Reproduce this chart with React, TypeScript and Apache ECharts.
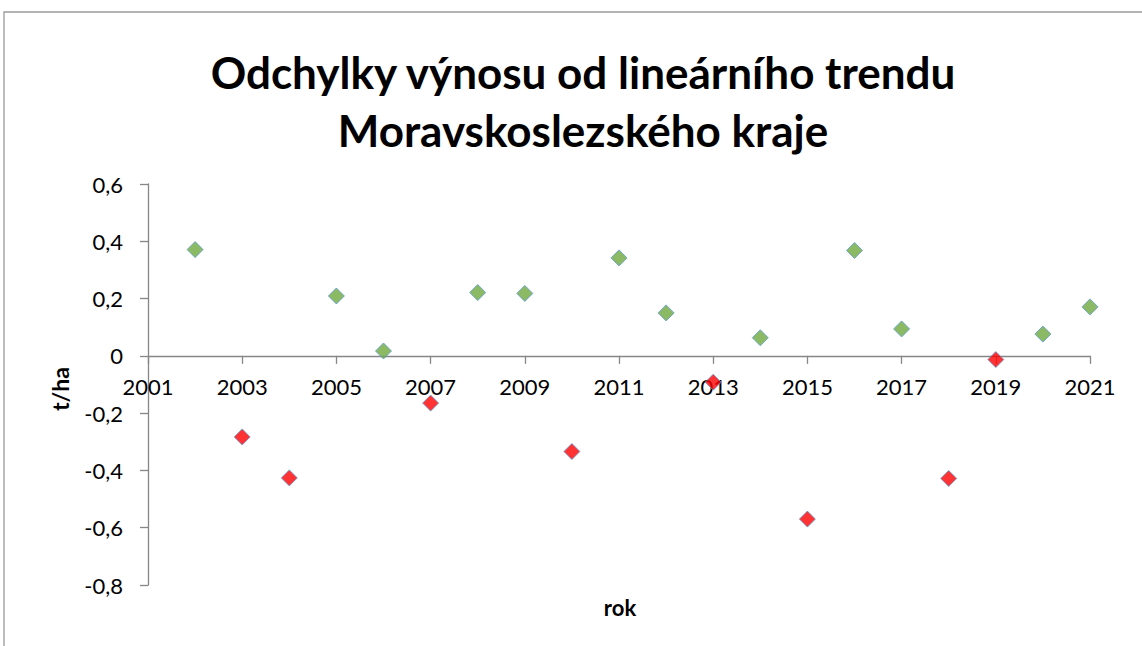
import React, { useEffect, useRef } from "react";
import * as echarts from "echarts";

const years = [2002, 2003, 2004, 2005, 2006, 2007, 2008, 2009, 2010, 2011, 2012, 2013, 2014, 2015, 2016, 2017, 2018, 2019, 2020, 2021];
const deviations = [0.371, -0.283, -0.426, 0.209, 0.017, -0.165, 0.221, 0.218, -0.334, 0.342, 0.15, -0.092, 0.063, -0.57, 0.368, 0.094, -0.428, -0.013, 0.076, 0.171];
const titleLines = ["Odchylky výnosu od lineárního trendu", "Moravskoslezského kraje"];
const xAxisName = "rok";
const yAxisName = "t/ha";
const yMin = -0.8;
const yMax = 0.6;

const FONT = "Lato, 'Open Sans', sans-serif";

export default function App() {
  const ref = useRef<HTMLDivElement>(null);
  useEffect(() => {
    if (!ref.current) return;
    const chart = echarts.init(ref.current, null, { renderer: "svg" });
    const positive = years.map((y, i) => [y, deviations[i]]).filter((p) => p[1] >= 0);
    const negative = years.map((y, i) => [y, deviations[i]]).filter((p) => p[1] < 0);
    const W = 1142, H = 646;
    const gridLeft = 148, gridTop = 184, gridRight = 52, gridBottom = 61;
    const plotH = H - gridTop - gridBottom;
    const zeroFromBottom = plotH * (0 - yMin) / (yMax - yMin);
    chart.setOption({
      animation: false,
      backgroundColor: "#ffffff",
      title: {
        text: titleLines.join("\n"),
        left: 578,
        textAlign: "center",
        top: 38,
        textStyle: { fontFamily: FONT, fontWeight: "bold", fontSize: 44, lineHeight: 58, color: "#000" },
      },
      grid: { left: gridLeft, top: gridTop, right: gridRight, bottom: gridBottom, containLabel: false },
      xAxis: {
        type: "value",
        min: 2001,
        max: 2021,
        interval: 2,
        offset: -zeroFromBottom,
        axisLine: { show: true, onZero: false, lineStyle: { color: "#868686", width: 1.3 } },
        axisTick: { show: true, length: 8, lineStyle: { color: "#868686", width: 1.3 } },
        axisLabel: { margin: 20, fontFamily: FONT, fontSize: 22, color: "#000", formatter: (v: number) => String(v) },
        splitLine: { show: false },
      },
      yAxis: {
        type: "value",
        min: yMin,
        max: yMax,
        interval: 0.2,
        axisLine: { show: true, lineStyle: { color: "#868686", width: 1.3 } },
        axisTick: { show: true, length: 8, lineStyle: { color: "#868686", width: 1.3 } },
        axisLabel: {
          margin: 25,
          fontFamily: FONT,
          fontSize: 22,
          color: "#000",
          formatter: (v: number) => (Math.abs(v) < 1e-9 ? "0" : v.toFixed(1).replace(".", ",")),
        },
        splitLine: { show: false },
      },
      graphic: [
        {
          type: "rect",
          shape: { x: 4, y: 12, width: 2000, height: 2000 },
          style: { fill: "none", stroke: "#9a9a9a", lineWidth: 1.3 },
          silent: true,
          z: -1,
        },
        {
          type: "text",
          x: 620,
          y: 607,
          style: { text: xAxisName, fontFamily: FONT, fontWeight: "bold", fontSize: 22, fill: "#000", align: "center", verticalAlign: "middle" },
        },
        {
          type: "text",
          x: 60,
          y: 389,
          rotation: Math.PI / 2,
          style: { text: yAxisName, fontFamily: FONT, fontWeight: "bold", fontSize: 23, fill: "#000", align: "center", verticalAlign: "middle" },
        },
      ],
      series: [
        {
          type: "scatter",
          name: "kladné",
          data: positive,
          symbol: "diamond",
          symbolSize: 16,
          itemStyle: { color: "#6FA83C", borderColor: "#5B9BD5", borderWidth: 1 },
        },
        {
          type: "scatter",
          name: "záporné",
          data: negative,
          symbol: "diamond",
          symbolSize: 16,
          itemStyle: { color: "#FF0000", borderColor: "#5B9BD5", borderWidth: 1 },
        },
      ],
    });
    return () => chart.dispose();
  }, []);
  return <div ref={ref} style={{ position: "absolute", left: 0, top: 0, width: 1142, height: 646 }} />;
}
